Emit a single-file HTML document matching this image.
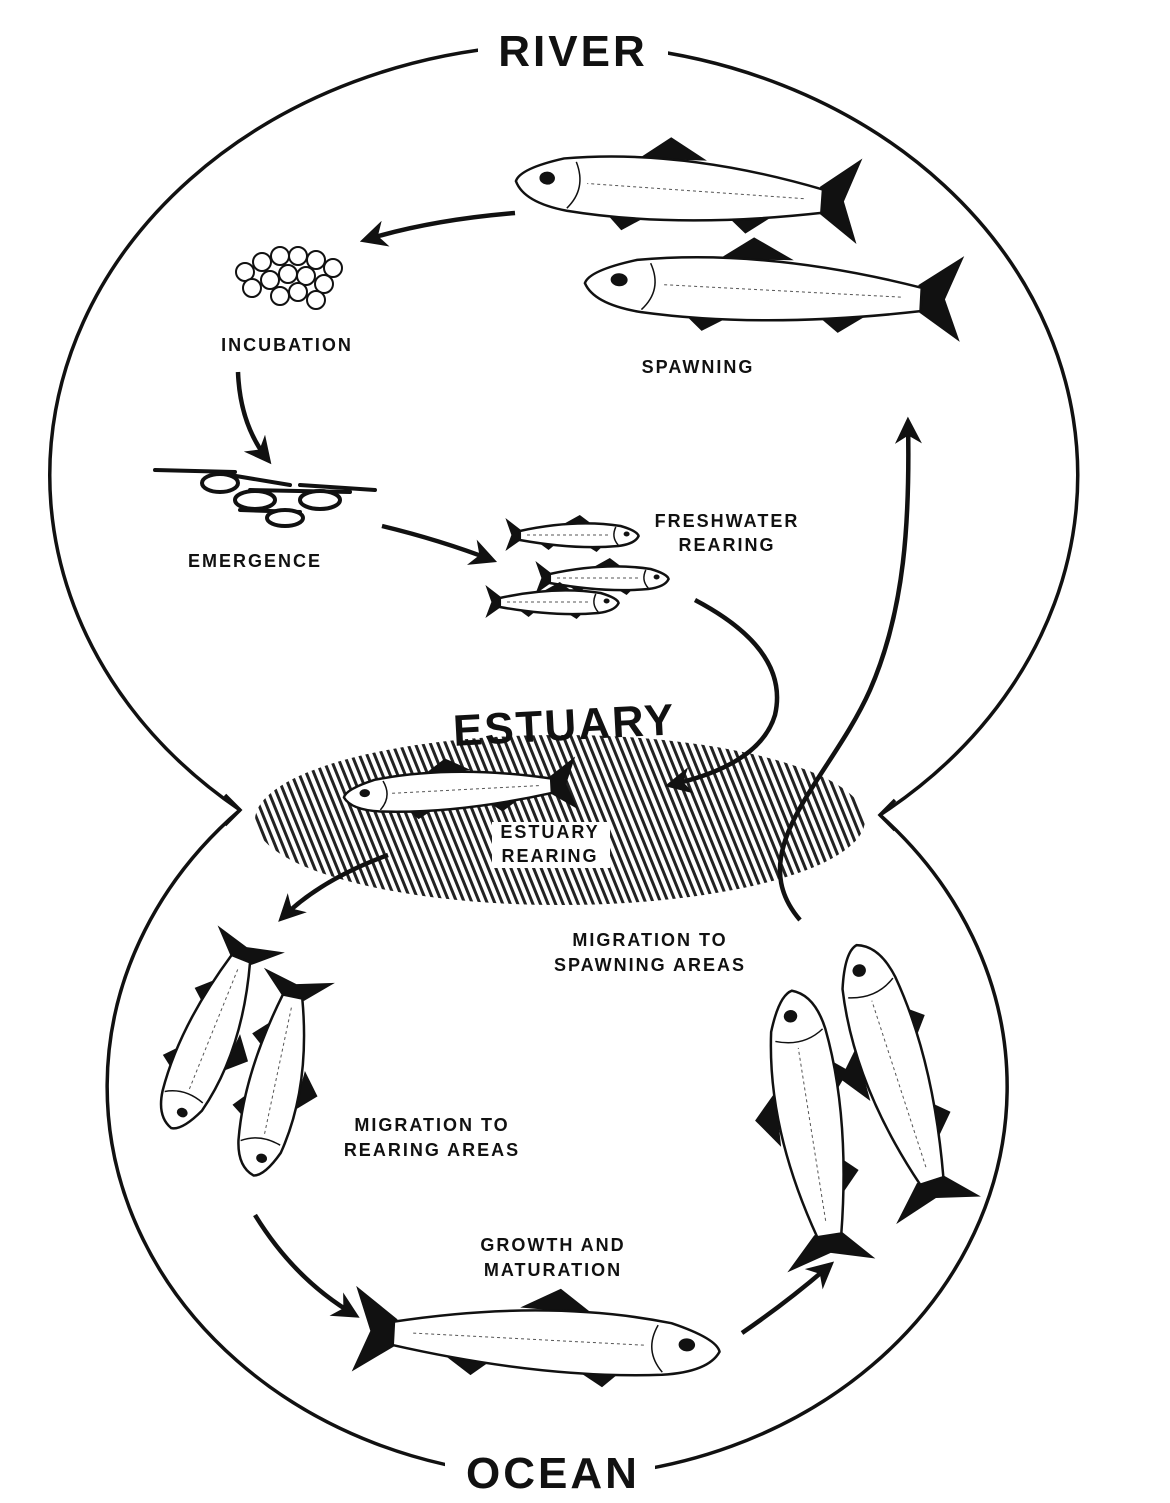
<!DOCTYPE html>
<html><head><style>
html,body{margin:0;padding:0;background:#fff;}
svg{display:block;}
text{font-family:"Liberation Sans",sans-serif;font-weight:bold;fill:#111;}
.l{font-size:18px;letter-spacing:2px;text-anchor:middle;}
</style></head><body>
<svg width="1170" height="1503" viewBox="0 0 1170 1503" xmlns="http://www.w3.org/2000/svg">
<defs>
<pattern id="hatch" width="7" height="7" patternUnits="userSpaceOnUse" patternTransform="rotate(-22)">
<rect width="3" height="7" fill="#222"/>
</pattern>
<marker id="ah" viewBox="0 0 10 10" refX="8" refY="5" markerWidth="6" markerHeight="6" orient="auto">
<path d="M0,0 L10,5 L0,10 L3,5 Z" fill="#111"/>
</marker>
<g id="fish">
<path d="M-45,-5 L-58,-17 L-53,0 L-58,16 L-45,5 Z" fill="#111"/>
<path d="M-8,-12 L4,-20 L14,-11 Z" fill="#111"/>
<path d="M-30,8 L-22,15 L-16,9 Z" fill="#111"/>
<path d="M10,11 L18,17 L24,10 Z" fill="#111"/>
<path d="M-46,-4 Q0,-16 38,-9 Q52,-4 53,1 Q50,9 36,11 Q0,15 -46,5 Z" fill="#fff" stroke="#111" stroke-width="2.5" vector-effect="non-scaling-stroke"/>
<path d="M-40,0 L30,0" stroke="#555" stroke-width="1" stroke-dasharray="3 3" vector-effect="non-scaling-stroke"/>
<path d="M34,-8 Q30,2 36,10" fill="none" stroke="#111" stroke-width="1.5" vector-effect="non-scaling-stroke"/>
<circle cx="43" cy="-1" r="2.5" fill="#111"/>
</g>
</defs>

<!-- figure-8 outline -->
<path d="M240,810 A514,431 0 1 1 880,815" fill="none" stroke="#111" stroke-width="3.5"/>
<path d="M240,810 A450,390 0 1 0 880,815" fill="none" stroke="#111" stroke-width="3.5"/>
<path d="M225,795 L240,810 L225,825" fill="none" stroke="#111" stroke-width="3.5"/>
<path d="M895,800 L880,815 L895,830" fill="none" stroke="#111" stroke-width="3.5"/>

<rect x="478" y="20" width="190" height="55" fill="#fff"/>
<text x="573" y="66" font-size="44" text-anchor="middle" letter-spacing="3">RIVER</text>
<rect x="445" y="1440" width="210" height="63" fill="#fff"/>
<text x="553" y="1488" font-size="44" text-anchor="middle" letter-spacing="3">OCEAN</text>

<!-- estuary hatch -->
<ellipse cx="560" cy="820" rx="305" ry="85" fill="url(#hatch)"/>
<text x="565" y="740" font-size="44" text-anchor="middle" letter-spacing="2" transform="rotate(-3 565 740)">ESTUARY</text>

<!-- eggs -->
<g fill="#fff" stroke="#111" stroke-width="2">
<circle cx="245" cy="272" r="9"/><circle cx="262" cy="262" r="9"/><circle cx="280" cy="256" r="9"/><circle cx="298" cy="256" r="9"/><circle cx="316" cy="260" r="9"/><circle cx="333" cy="268" r="9"/>
<circle cx="252" cy="288" r="9"/><circle cx="270" cy="280" r="9"/><circle cx="288" cy="274" r="9"/><circle cx="306" cy="276" r="9"/><circle cx="324" cy="284" r="9"/>
<circle cx="280" cy="296" r="9"/><circle cx="298" cy="292" r="9"/><circle cx="316" cy="300" r="9"/>
</g>

<!-- alevins -->
<g fill="#fff" stroke="#111" stroke-width="4" stroke-linecap="round">
<path d="M155,470 L235,472" />
<ellipse cx="220" cy="483" rx="18" ry="9"/>
<path d="M230,475 L290,485" />
<ellipse cx="255" cy="500" rx="20" ry="9"/>
<path d="M250,490 L350,492" />
<ellipse cx="320" cy="500" rx="20" ry="9"/>
<path d="M240,510 L300,512" />
<ellipse cx="285" cy="518" rx="18" ry="8"/>
<path d="M300,485 L375,490" />
</g>

<!-- fish -->
<use href="#fish" transform="translate(680,190) rotate(4) scale(-3.1,2.6)"/>
<use href="#fish" transform="translate(765,290) rotate(3) scale(-3.4,2.6)"/>
<use href="#fish" transform="translate(575,535) scale(1.2,1.0)"/>
<use href="#fish" transform="translate(605,578) scale(1.2,1.0)"/>
<use href="#fish" transform="translate(555,602) scale(1.2,1.0)"/>
<use href="#fish" transform="translate(455,790) rotate(-3) scale(-2.1,1.6)"/>
<use href="#fish" transform="translate(210,1038) rotate(112) scale(1.85,2.2)"/>
<use href="#fish" transform="translate(276,1080) rotate(102) scale(1.85,2.2)"/>
<use href="#fish" transform="translate(545,1340) rotate(3) scale(3.3,2.6)"/>
<use href="#fish" transform="translate(810,1122) rotate(-99) scale(2.5,2.7)"/>
<use href="#fish" transform="translate(895,1072) rotate(-108) scale(2.5,2.7)"/>

<!-- arrows -->
<g fill="none" stroke="#111" stroke-width="4.5" marker-end="url(#ah)">
<path d="M515,213 Q430,220 365,240"/>
<path d="M238,372 Q240,425 268,460"/>
<path d="M382,526 Q440,540 492,560"/>
<path d="M695,600 Q790,650 775,715 Q760,765 670,785"/>
<path d="M388,855 Q320,880 282,918"/>
<path d="M255,1215 Q295,1280 355,1315"/>
<path d="M742,1333 Q790,1300 830,1265"/>
<path d="M800,920 C740,850 830,780 870,690 C905,610 910,520 908,422"/>
</g>

<!-- labels -->
<text class="l" x="287" y="351">INCUBATION</text>
<text class="l" x="698" y="373">SPAWNING</text>
<text class="l" x="255" y="567">EMERGENCE</text>
<text class="l" x="727" y="527">FRESHWATER</text>
<text class="l" x="727" y="551">REARING</text>
<rect x="492" y="822" width="118" height="46" fill="#fff"/>
<text class="l" x="550" y="838">ESTUARY</text>
<text class="l" x="550" y="862">REARING</text>
<text class="l" x="650" y="946">MIGRATION TO</text>
<text class="l" x="650" y="971">SPAWNING AREAS</text>
<text class="l" x="432" y="1131">MIGRATION TO</text>
<text class="l" x="432" y="1156">REARING AREAS</text>
<text class="l" x="553" y="1251">GROWTH AND</text>
<text class="l" x="553" y="1276">MATURATION</text>
</svg>
</body></html>
